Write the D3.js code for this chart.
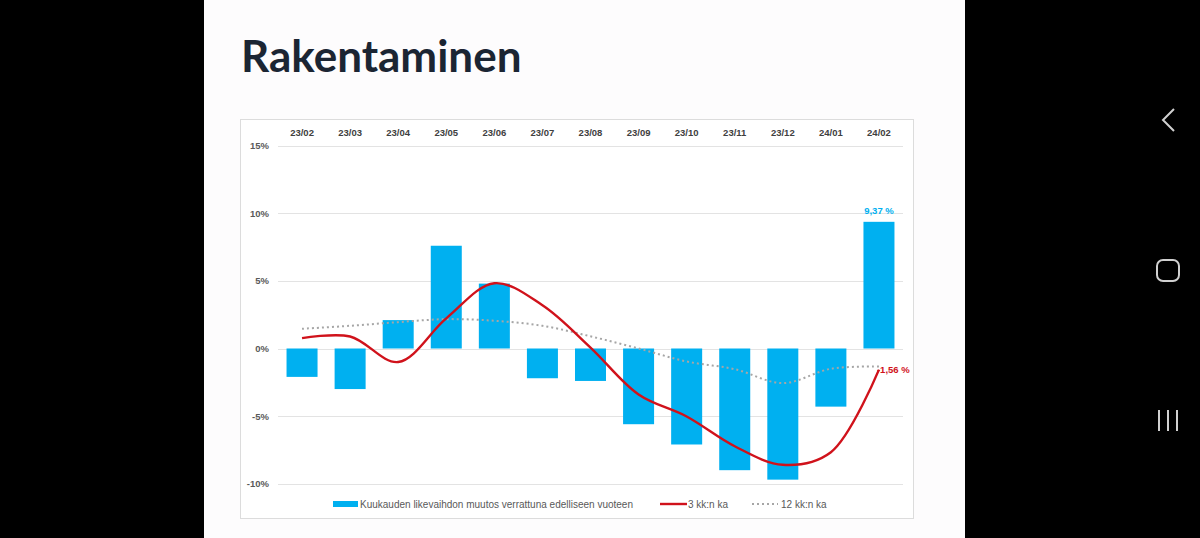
<!DOCTYPE html>
<html><head><meta charset="utf-8">
<script src="https://cdn.jsdelivr.net/npm/d3@7/dist/d3.min.js"></script>
<style>
html,body{margin:0;padding:0;background:#000;}
svg{display:block;}
</style></head>
<body>
<svg id="c" width="1200" height="538"></svg>
<script>
const title = "Rakentaminen";
const categories = ["23/02","23/03","23/04","23/05","23/06","23/07","23/08","23/09","23/10","23/11","23/12","24/01","24/02"];
const monthlyChange = [-2.1,-3.0,2.1,7.6,4.8,-2.2,-2.4,-5.6,-7.1,-9.0,-9.7,-4.3,9.37];
const avg3 = [0.77,0.89,-1.0,2.23,4.83,3.2,0.07,-3.4,-5.03,-7.23,-8.6,-7.67,-1.56];
const avg12 = [1.46,1.68,1.95,2.17,2.05,1.68,0.9,0.0,-0.96,-1.53,-2.56,-1.5,-1.33];
const yTicks = [-10,-5,0,5,10,15];
const seriesNames = ["Kuukauden likevaihdon muutos verrattuna edelliseen vuoteen","3 kk:n ka","12 kk:n ka"];
const lastBarLabel = "9,37 %";
const lastAvg3Label = "-1,56 %";

const svg = d3.select("#c");
svg.append("rect").attr("x",204).attr("y",0).attr("width",761).attr("height",538).attr("fill","#fdfcfd");
svg.append("text").attr("x",241).attr("y",72).text(title)
  .attr("font-family","Lato").attr("font-weight",700).attr("font-size",44).attr("fill","#1b2533");
svg.append("rect").attr("x",240.5).attr("y",119.5).attr("width",673).attr("height",399)
  .attr("fill","#ffffff").attr("stroke","#dcdcdc").attr("stroke-width",1);

const x = d3.scaleBand().domain(categories).range([278,903]).paddingInner(0.355).paddingOuter(0.1775);
const y = d3.scaleLinear().domain([-10,15]).range([483.7,145.7]);
const cx = d => x(d)+x.bandwidth()/2;

svg.append("g").selectAll("line").data(yTicks).join("line")
  .attr("x1",278).attr("x2",903).attr("y1",d=>Math.round(y(d))+0.5).attr("y2",d=>Math.round(y(d))+0.5)
  .attr("stroke","#e3e3e3").attr("stroke-width",1.2);

const ya = svg.append("g").attr("transform","translate(269,0)")
  .call(d3.axisLeft(y).tickValues(yTicks).tickSize(0).tickPadding(0).tickFormat(d=>d+"%"));
ya.select(".domain").remove();
ya.selectAll("text").attr("font-family","Liberation Sans").attr("font-weight",700).attr("font-size",9.5).attr("fill","#595959");

const xa = svg.append("g").attr("transform","translate(0,136)")
  .call(d3.axisTop(x).tickSize(0).tickPadding(0));
xa.select(".domain").remove();
xa.selectAll("text").attr("font-family","Liberation Sans").attr("font-weight",700).attr("font-size",9.5).attr("fill","#404040");

svg.append("g").selectAll("rect").data(categories).join("rect")
  .attr("x",d=>x(d)).attr("width",x.bandwidth())
  .attr("y",(d,i)=>y(Math.max(0,monthlyChange[i])))
  .attr("height",(d,i)=>Math.abs(y(monthlyChange[i])-y(0)))
  .attr("fill","#00b0f0");

const line = d3.line().x((d,i)=>cx(categories[i])).y(d=>y(d)).curve(d3.curveCatmullRom.alpha(0.5));
svg.append("path").attr("d",line(avg12)).attr("fill","none").attr("stroke","#a6a6a6")
  .attr("stroke-width",2).attr("stroke-dasharray","2,3");
svg.append("path").attr("d",line(avg3)).attr("fill","none").attr("stroke","#d0121b")
  .attr("stroke-width",2.4);

svg.append("text").attr("x",cx(categories[12])).attr("y",y(monthlyChange[12])-8).attr("text-anchor","middle")
  .text(lastBarLabel).attr("font-family","Liberation Sans").attr("font-weight",700).attr("font-size",9.5).attr("fill","#00b0f0");
svg.append("text").attr("x",cx(categories[12])-2).attr("y",y(avg3[12])+3).attr("text-anchor","start")
  .text(lastAvg3Label).attr("font-family","Liberation Sans").attr("font-weight",700).attr("font-size",9.5).attr("fill","#d0121b");

const lg = svg.append("g").attr("font-family","Liberation Sans").attr("font-size",10).attr("fill","#595959");
lg.append("rect").attr("x",333).attr("y",501).attr("width",25).attr("height",6).attr("fill","#00b0f0");
lg.append("text").attr("x",360).attr("y",507.5).text(seriesNames[0]);
lg.append("line").attr("x1",660).attr("x2",687).attr("y1",504).attr("y2",504).attr("stroke","#d0121b").attr("stroke-width",2.4);
lg.append("text").attr("x",688).attr("y",507.5).text(seriesNames[1]);
lg.append("line").attr("x1",752).attr("x2",778).attr("y1",504).attr("y2",504).attr("stroke","#a6a6a6").attr("stroke-width",2).attr("stroke-dasharray","2,3");
lg.append("text").attr("x",781).attr("y",507.5).text(seriesNames[2]);

const nav = svg.append("g").attr("fill","none").attr("stroke","#d0d0d0").attr("stroke-width",2);
nav.append("path").attr("d","M1174,109 L1163,120 L1174,131");
nav.append("rect").attr("x",1157).attr("y",260).attr("width",22).attr("height",21).attr("rx",6);
nav.append("line").attr("x1",1159).attr("x2",1159).attr("y1",410).attr("y2",431);
nav.append("line").attr("x1",1168).attr("x2",1168).attr("y1",410).attr("y2",431);
nav.append("line").attr("x1",1177).attr("x2",1177).attr("y1",410).attr("y2",431);
</script>
</body></html>
